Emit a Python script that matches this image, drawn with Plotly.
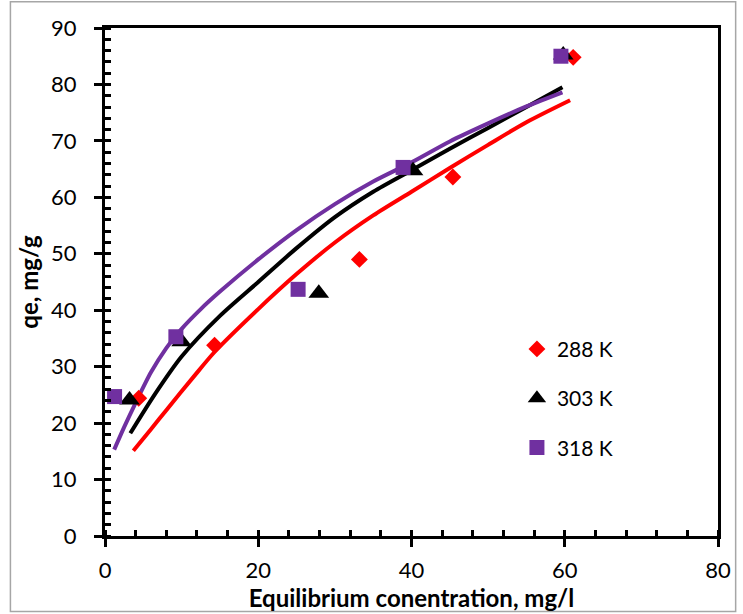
import plotly.graph_objects as go

# ---- data ----
# experimental points
x_288 = [4.4, 14.3, 33.2, 45.4, 61.1]
y_288 = [24.4, 33.8, 49.0, 63.6, 84.8]
x_303 = [3.2, 10.0, 27.9, 40.2, 59.8]
y_303 = [24.1, 34.4, 43.0, 64.7, 85.2]
x_318 = [1.25, 9.25, 25.2, 38.9, 59.5]
y_318 = [24.7, 35.3, 43.7, 65.3, 85.0]

# fitted curves
fit288_x = [3.7, 6, 8, 11.5, 14.3, 20, 25, 30, 35, 40, 45, 50, 55, 60.7]
fit288_y = [15.1, 18.9, 22.3, 28.1, 32.6, 40.2, 46.4, 52.0, 56.8, 61.0, 65.2, 69.3, 73.3, 77.2]
fit303_x = [3.3, 6.5, 10, 15, 20, 25, 30, 35, 40, 45, 50, 55, 59.7]
fit303_y = [18.2, 25.1, 31.8, 39.0, 45.0, 51.0, 56.5, 61.0, 64.8, 68.6, 72.3, 76.0, 79.5]
fit318_x = [1.2, 2.5, 4, 6, 8, 10, 12.5, 15, 20, 25, 30, 35, 40, 45, 50, 55, 59.7]
fit318_y = [15.3, 19.3, 23.6, 29.0, 33.3, 36.7, 40.2, 43.3, 49.0, 54.2, 58.8, 62.8, 66.2, 69.9, 73.1, 76.1, 78.6]

labels = ["288 K", "303 K", "318 K"]
x_ticks = [0, 20, 40, 60, 80]
y_ticks = [0, 10, 20, 30, 40, 50, 60, 70, 80, 90]

RED = "#FF0000"
BLACK = "#000000"
PURPLE = "#7030A0"
FONT = "Lato"

fig = go.Figure()

for fx, fy, c in [(fit288_x, fit288_y, RED), (fit303_x, fit303_y, BLACK), (fit318_x, fit318_y, PURPLE)]:
    fig.add_trace(go.Scatter(x=fx, y=fy, mode="lines",
                             line=dict(color=c, width=4, shape="spline", smoothing=0.8),
                             showlegend=False, hoverinfo="skip"))

fig.add_trace(go.Scatter(x=x_288, y=y_288, mode="markers", name=labels[0], legendgroup="a",
                         marker=dict(symbol="diamond", size=13, color=RED)))
fig.add_trace(go.Scatter(x=x_303, y=y_303, mode="markers", name=labels[1], legendgroup="b",
                         marker=dict(symbol="triangle-up", size=18, color=BLACK)))
fig.add_trace(go.Scatter(x=x_318, y=y_318, mode="markers", name=labels[2], legendgroup="c",
                         marker=dict(symbol="square", size=15, color=PURPLE)))

fig.update_layout(
    width=743, height=614,
    margin=dict(l=105, r=21, t=28, b=78),
    paper_bgcolor="white", plot_bgcolor="white",
    font=dict(family=FONT, size=20, color="black"),
    showlegend=True,
    legend=dict(x=0.672, y=0.408, xanchor="left", yanchor="top",
                bgcolor="rgba(0,0,0,0)", font=dict(family=FONT, size=21, color="black"),
                tracegroupgap=19, itemsizing="trace"),
    xaxis=dict(range=[0, 80], tickvals=x_ticks, ticktext=[str(v) for v in x_ticks],
               showgrid=False, zeroline=False,
               showline=True, linecolor="black", linewidth=3, mirror=True,
               ticks="outside", ticklen=8, tickwidth=3, tickcolor="black",
               minor=dict(dtick=4, ticks="inside", ticklen=6, tickwidth=2.5, tickcolor="black"),
               tickfont=dict(family=FONT, size=22, color="black"),
               ticklabelstandoff=5,
               title=dict(text="Equilibrium conentration, mg/l", standoff=0,
                          font=dict(family=FONT, size=24, color="black", weight="bold"))),
    xaxis2=dict(range=[0, 80], matches="x", overlaying="x", side="bottom",
                tickvals=x_ticks, showticklabels=False, showgrid=False, zeroline=False,
                showline=False, ticks="inside", ticklen=6, tickwidth=3, tickcolor="black"),
    yaxis=dict(range=[0, 90], tickvals=y_ticks, ticktext=[str(v) for v in y_ticks],
               showgrid=False, zeroline=False,
               showline=True, linecolor="black", linewidth=3, mirror=True,
               ticks="outside", ticklen=8, tickwidth=3, tickcolor="black",
               minor=dict(dtick=2, ticks="inside", ticklen=6, tickwidth=2.5, tickcolor="black"),
               tickfont=dict(family=FONT, size=22, color="black"),
               ticklabelstandoff=13,
               title=dict(text="qe, mg/g", standoff=6,
                          font=dict(family=FONT, size=24, color="black", weight="bold"))),
    shapes=[dict(type="rect", xref="paper", yref="paper",
                 x0=-0.1543, x1=1.0288, y0=-0.1486, y1=1.0518,
                 line=dict(color="#a6a6a6", width=1.5), fillcolor="rgba(0,0,0,0)", layer="below")],
)

fig.write_html("out.html")
